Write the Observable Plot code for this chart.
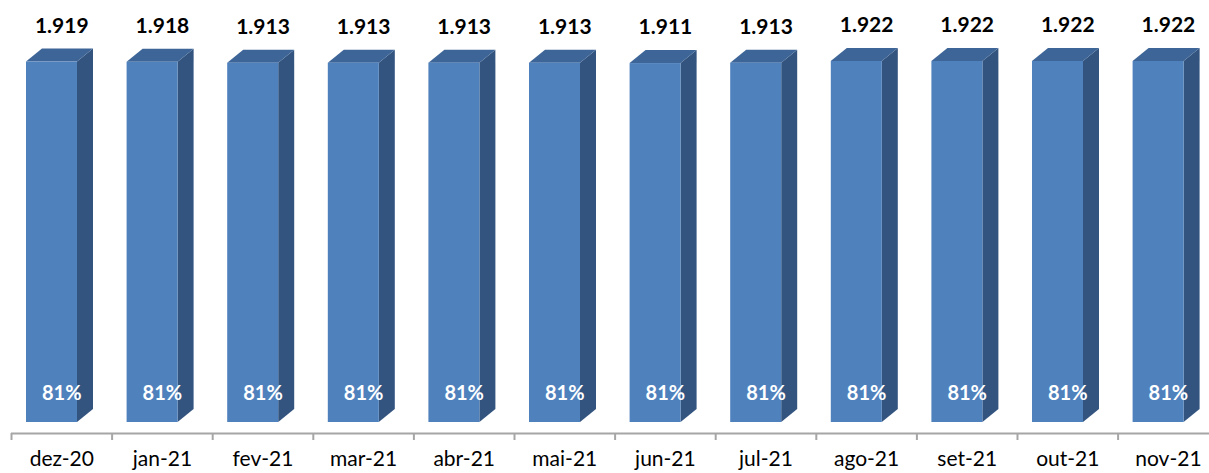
<!DOCTYPE html>
<html>
<head>
<meta charset="utf-8">
<script src="https://cdn.jsdelivr.net/npm/d3@7"></script>
<script src="https://cdn.jsdelivr.net/npm/@observablehq/plot@0.6"></script>
<style>
  html, body { margin: 0; padding: 0; background: #fff; }
  #chart svg { display: block; }
</style>
</head>
<body>
<div id="chart"></div>
<script>
// ---- data ----
const months = ["dez-20", "jan-21", "fev-21", "mar-21", "abr-21", "mai-21", "jun-21", "jul-21", "ago-21", "set-21", "out-21", "nov-21"];
const totals = [1919, 1918, 1913, 1913, 1913, 1913, 1911, 1913, 1922, 1922, 1922, 1922];
const shares = [81, 81, 81, 81, 81, 81, 81, 81, 81, 81, 81, 81];

// ---- layout constants (pixels) ----
const W = 1209, H = 473;
const catPx = 100.6;          // width of one category
const xLeft = 11;             // first category boundary
const baseY = 422, topY = 61; // y-range for value 0 .. yMax
const yMax = 1922;
const frontL = 15 / catPx, frontR = 66 / catPx; // front face edges within a category
const depthX = 16 / catPx;                      // 3D depth offset (x, in category units)
const depthY = 13 * yMax / (baseY - topY);      // 3D depth offset (y, in value units)

const ptBR = d3.formatLocale({decimal: ",", thousands: ".", grouping: [3], currency: ["R$", ""]});
const fmt = ptBR.format(",d");

const bars = months.map((m, i) => ({i, month: m, v: totals[i], share: shares[i]}));
const sideFace = bars.flatMap(d => [
  {i: d.i, x: d.i + frontR, y1: 0, y2: d.v},
  {i: d.i, x: d.i + frontR + depthX, y1: depthY, y2: d.v + depthY}
]);
const topFace = bars.flatMap(d => [
  {i: d.i, y: d.v, x1: d.i + frontL, x2: d.i + frontR},
  {i: d.i, y: d.v + depthY, x1: d.i + frontL + depthX, x2: d.i + frontR + depthX}
]);

const chart = Plot.plot({
  width: W,
  height: H,
  marginLeft: xLeft,
  marginRight: 0,
  marginTop: 0,
  marginBottom: H - 433,
  style: {fontFamily: "Lato, 'Open Sans', sans-serif", background: "#fff"},
  x: {type: "linear", domain: [0, 12], range: [xLeft, xLeft + 12 * catPx], axis: null},
  y: {type: "linear", domain: [0, yMax], range: [baseY, topY], axis: null},
  marks: [
    // x axis line and category-boundary ticks
    Plot.ruleY([0], {dy: 11, stroke: "#a6a6a6", strokeWidth: 2}),
    Plot.axisX(d3.range(0, 13), {tickSize: 7, tickFormat: () => "", stroke: "#a6a6a6", strokeWidth: 2}),
    // 3D bar faces
    Plot.areaY(sideFace, {x: "x", y1: "y1", y2: "y2", z: "i", fill: "#33547f", curve: "linear"}),
    Plot.areaX(topFace, {y: "y", x1: "x1", x2: "x2", z: "i", fill: "#3d6597", curve: "linear"}),
    Plot.rect(bars, {x1: d => d.i + frontL, x2: d => d.i + frontR, y1: 0, y2: "v", fill: "#4f81bd"}),
    // value labels
    Plot.text(bars, {x: d => d.i + 0.5, y: "v", dy: -36, text: d => fmt(d.v), fontSize: 21, fontWeight: "bold", fill: "#000"}),
    // share labels
    Plot.text(bars, {x: d => d.i + 0.5, y: 0, dy: -29, text: d => d.share + "%", fontSize: 20, fontWeight: "bold", fill: "#fff"}),
    // category labels
    Plot.text(bars, {x: d => d.i + 0.5, frameAnchor: "bottom", dy: 32, text: "month", fontSize: 21, fill: "#000"})
  ]
});
document.getElementById("chart").appendChild(chart);
</script>
</body>
</html>
